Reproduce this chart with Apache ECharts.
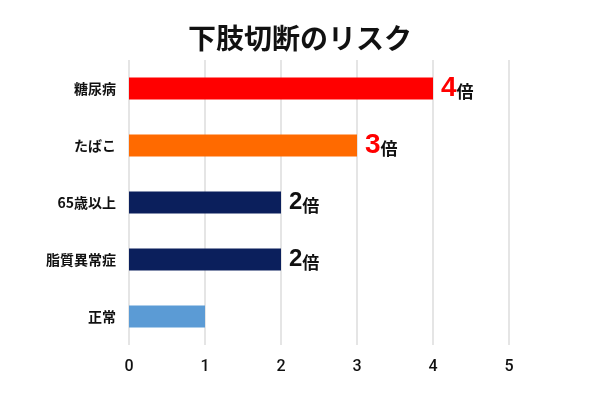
<!DOCTYPE html>
<html><head><meta charset="utf-8">
<script src="https://cdn.jsdelivr.net/npm/echarts@6/dist/echarts.min.js"></script>
<style>html,body{margin:0;padding:0;background:#fff}#c{width:600px;height:402px}</style>
</head><body><div id="c"></div>
<script>
const categories = ['糖尿病', 'たばこ', '65歳以上', '脂質異常症', '正常'];
const values = [4, 3, 2, 2, 1];
const barColors = ['#ff0000', '#ff6a00', '#0b1f5c', '#0b1f5c', '#5b9bd5'];
const numColors = ['#ff0000', '#ff0000', '#111111', '#111111', null];
const xTicks = [0, 1, 2, 3, 4, 5];

const font = '"Noto Sans CJK JP", sans-serif';
const chart = echarts.init(document.getElementById('c'));
chart.setOption({
  animation: false,
  title: {
    text: '下肢切断のリスク', left: 'center', top: 19,
    textStyle: { fontFamily: font, fontSize: 28, fontWeight: 'bold', color: '#111' }
  },
  grid: { left: 129, right: 91, top: 60, bottom: 57 },
  xAxis: {
    type: 'value', min: xTicks[0], max: xTicks[xTicks.length - 1], interval: 1,
    axisLine: { show: false }, axisTick: { show: false },
    splitLine: { lineStyle: { color: '#dcdcdc', width: 1.5 } },
    axisLabel: { fontFamily: '"Roboto", sans-serif', fontSize: 16, fontWeight: 500, color: '#111', margin: 14 }
  },
  yAxis: {
    type: 'category', data: categories, inverse: true,
    axisLine: { show: false }, axisTick: { show: false },
    axisLabel: { fontFamily: font, fontSize: 14, fontWeight: 'bold', color: '#111', margin: 13 }
  },
  series: [{
    type: 'bar', barWidth: 22,
    data: values.map((v, i) => ({
      value: v,
      itemStyle: { color: barColors[i] },
      label: numColors[i] ? {
        show: true, position: 'right', distance: 8,
        formatter: '{n|' + v + '}{b|倍}',
        rich: {
          n: { fontFamily: 'Liberation Sans, sans-serif', fontWeight: 'bold', fontSize: i < 2 ? 28 : 24, color: numColors[i] },
          b: { fontFamily: font, fontWeight: 'bold', fontSize: 17, color: '#111', padding: [6, 0, 0, 0] }
        }
      } : { show: false }
    }))
  }]
});
</script></body></html>
